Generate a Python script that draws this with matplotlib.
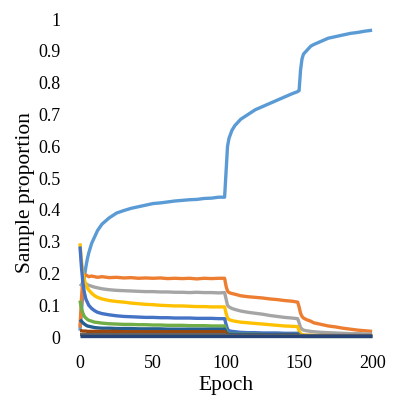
import matplotlib.pyplot as plt

epochs = [0, 1, 2, 3, 4, 5, 6, 8, 10, 12, 15, 20, 25, 30, 35, 40, 45, 50, 55, 60,
          65, 70, 75, 80, 85, 90, 95, 99, 100, 101, 102, 104, 106, 110, 115, 120,
          125, 130, 135, 140, 145, 149, 150, 151, 152, 153, 155, 158, 160, 165, 170,
          175, 180, 185, 190, 195, 200]

s1 = [0.02, 0.08, 0.14, 0.19, 0.22, 0.245, 0.265, 0.295, 0.315, 0.335, 0.355, 0.375,
      0.39, 0.398, 0.405, 0.41, 0.415, 0.42, 0.422, 0.425, 0.428, 0.43, 0.432, 0.433,
      0.436, 0.437, 0.44, 0.44, 0.52, 0.6, 0.625, 0.65, 0.665, 0.685, 0.70, 0.715,
      0.725, 0.735, 0.745, 0.755, 0.765, 0.772, 0.775, 0.84, 0.875, 0.89, 0.9, 0.915,
      0.92, 0.93, 0.94, 0.945, 0.95, 0.955, 0.958, 0.962, 0.965]
s2 = [0.03, 0.12, 0.19, 0.195, 0.195, 0.193, 0.19, 0.192, 0.19, 0.188, 0.19, 0.187,
      0.188, 0.186, 0.187, 0.185, 0.186, 0.185, 0.186, 0.184, 0.185, 0.184, 0.185,
      0.183, 0.185, 0.184, 0.185, 0.185, 0.16, 0.145, 0.14, 0.137, 0.135, 0.13, 0.127,
      0.125, 0.123, 0.12, 0.118, 0.115, 0.113, 0.11, 0.095, 0.075, 0.065, 0.06, 0.055,
      0.05, 0.045, 0.04, 0.035, 0.032, 0.028, 0.025, 0.022, 0.02, 0.018]
s3 = [0.16, 0.165, 0.17, 0.17, 0.168, 0.165, 0.163, 0.16, 0.157, 0.155, 0.152, 0.149,
      0.147, 0.146, 0.145, 0.144, 0.143, 0.143, 0.142, 0.142, 0.141, 0.141, 0.14, 0.141,
      0.14, 0.14, 0.139, 0.14, 0.12, 0.1, 0.095, 0.09, 0.087, 0.082, 0.078, 0.075,
      0.072, 0.068, 0.065, 0.062, 0.06, 0.058, 0.045, 0.03, 0.025, 0.022, 0.02, 0.018,
      0.017, 0.015, 0.014, 0.013, 0.012, 0.011, 0.011, 0.01, 0.01]
s4 = [0.295, 0.24, 0.2, 0.18, 0.165, 0.155, 0.148, 0.138, 0.13, 0.125, 0.12, 0.115,
      0.112, 0.11, 0.107, 0.105, 0.103, 0.102, 0.1, 0.099, 0.098, 0.098, 0.097, 0.096,
      0.096, 0.095, 0.095, 0.095, 0.075, 0.06, 0.055, 0.052, 0.05, 0.047, 0.045, 0.043,
      0.041, 0.039, 0.037, 0.035, 0.034, 0.033, 0.02, 0.01, 0.008, 0.007, 0.006, 0.006,
      0.005, 0.005, 0.005, 0.004, 0.004, 0.004, 0.004, 0.004, 0.004]
s5 = [0.285, 0.22, 0.17, 0.14, 0.12, 0.11, 0.1, 0.09, 0.083, 0.078, 0.074, 0.07,
      0.067, 0.065, 0.064, 0.063, 0.062, 0.062, 0.061, 0.061, 0.06, 0.06, 0.06, 0.059,
      0.059, 0.059, 0.058, 0.058, 0.04, 0.025, 0.02, 0.018, 0.017, 0.015, 0.014, 0.014,
      0.013, 0.013, 0.013, 0.012, 0.012, 0.012, 0.007, 0.004, 0.003, 0.003, 0.003,
      0.003, 0.003, 0.003, 0.003, 0.003, 0.003, 0.003, 0.003, 0.003, 0.003]
s6 = [0.115, 0.09, 0.075, 0.065, 0.06, 0.056, 0.053, 0.05, 0.047, 0.046, 0.044, 0.042,
      0.041, 0.04, 0.04, 0.039, 0.039, 0.038, 0.038, 0.037, 0.037, 0.037, 0.036, 0.036,
      0.036, 0.035, 0.035, 0.035, 0.02, 0.012, 0.01, 0.01, 0.009, 0.009, 0.009, 0.009,
      0.008, 0.008, 0.008, 0.008, 0.008, 0.008, 0.005, 0.003, 0.002, 0.002, 0.002,
      0.002, 0.002, 0.002, 0.002, 0.002, 0.002, 0.002, 0.002, 0.002, 0.002]
s7 = [0.055, 0.05, 0.045, 0.041, 0.038, 0.035, 0.034, 0.032, 0.03, 0.029, 0.028, 0.028,
      0.027, 0.027, 0.027, 0.026, 0.026, 0.026, 0.026, 0.025, 0.025, 0.025, 0.025,
      0.025, 0.025, 0.025, 0.025, 0.025, 0.015, 0.01, 0.009, 0.009, 0.008, 0.008, 0.008,
      0.008, 0.008, 0.008, 0.008, 0.008, 0.008, 0.008, 0.005, 0.004, 0.004, 0.004,
      0.004, 0.004, 0.004, 0.004, 0.004, 0.004, 0.004, 0.004, 0.004, 0.004, 0.004]
s8 = [0.02, 0.02, 0.019, 0.019, 0.019, 0.018, 0.018, 0.018, 0.018, 0.018, 0.018, 0.018,
      0.018, 0.017, 0.017, 0.017, 0.017, 0.017, 0.017, 0.017, 0.017, 0.017, 0.017,
      0.017, 0.017, 0.017, 0.017, 0.017, 0.01, 0.006, 0.005, 0.005, 0.005, 0.005, 0.005,
      0.005, 0.005, 0.005, 0.005, 0.005, 0.005, 0.005, 0.003, 0.003, 0.003, 0.003,
      0.003, 0.003, 0.003, 0.003, 0.003, 0.003, 0.003, 0.003, 0.003, 0.003, 0.003]
s9 = [0.008] * 28 + [0.005] * 29
s10 = [0.004] * 57

series = [s1, s2, s3, s4, s5, s6, s7, s8, s9, s10]
colors = ["#5B9BD5", "#ED7D31", "#A5A5A5", "#FFC000", "#4472C4", "#70AD47",
          "#255E91", "#9E480E", "#636363", "#264478"]

plt.rcParams['font.family'] = ['Liberation Serif', 'DejaVu Serif']

fig = plt.figure(figsize=(3.98, 3.98), dpi=100)
ax = fig.add_axes([0.201, 0.153, 0.734, 0.799])

for s, c in zip(series, colors):
    ax.plot(epochs, s, color=c, linewidth=2.4, clip_on=False, solid_capstyle='butt')

ax.set_xlim(0, 200)
ax.set_ylim(0, 1)
ax.set_xticks([0, 50, 100, 150, 200])
ax.set_yticks([0, 0.1, 0.2, 0.3, 0.4, 0.5, 0.6, 0.7, 0.8, 0.9, 1])
ax.set_yticklabels(["0", "0.1", "0.2", "0.3", "0.4", "0.5", "0.6", "0.7", "0.8", "0.9", "1"])
ax.tick_params(length=0, labelsize=13)
ax.tick_params(axis='y', pad=14)
ax.tick_params(axis='x', pad=13)
for sp in ax.spines.values():
    sp.set_visible(False)

ax.set_xlabel("Epoch", fontsize=15.5, va='center')
ax.xaxis.set_label_coords(0.5, -0.152)
ax.set_ylabel("Sample proportion", fontsize=15.5)
ax.yaxis.set_label_coords(-0.155, 0.456)

fig.savefig("out.png", dpi=100)
